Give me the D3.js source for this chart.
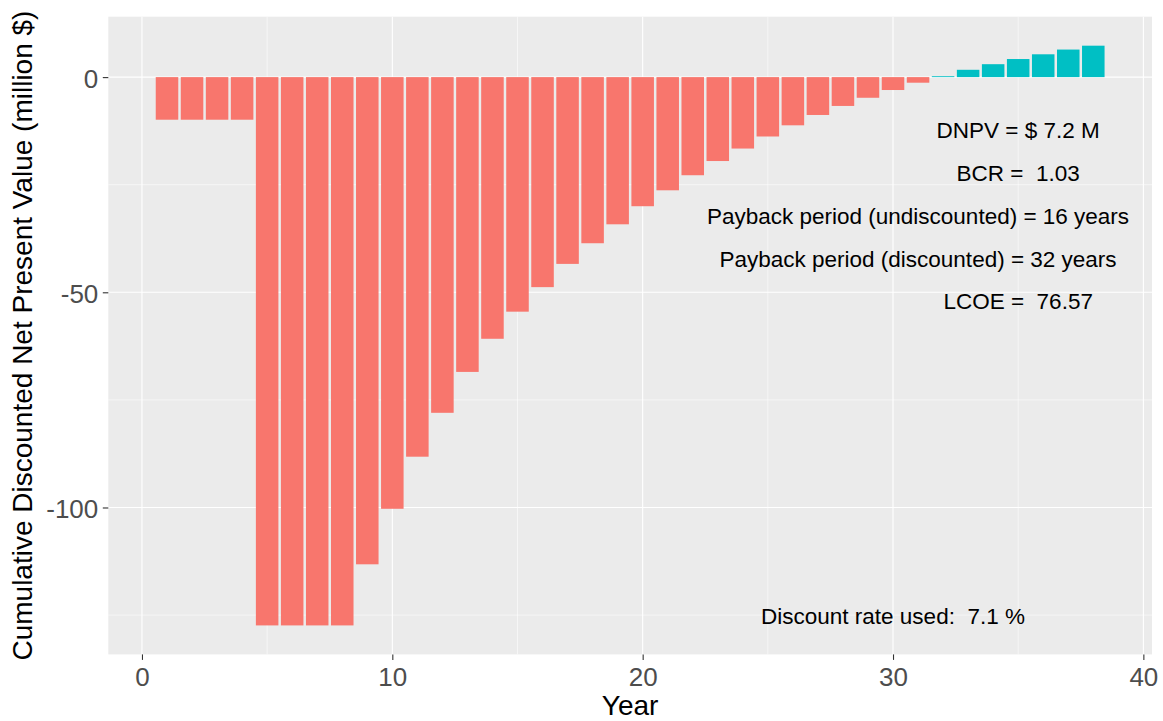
<!DOCTYPE html>
<html>
<head>
<meta charset="utf-8">
<script src="https://cdn.jsdelivr.net/npm/d3@7"></script>
<style>
  html, body { margin: 0; padding: 0; background: #ffffff; }
  svg { display: block; }
  text { font-family: "Liberation Sans", Arial, sans-serif; white-space: pre; }
</style>
</head>
<body>
<svg id="chart" width="1163" height="721"></svg>
<script>
// ---- Data ----
const years = [1,2,3,4,5,6,7,8,9,10,11,12,13,14,15,16,17,18,19,20,21,22,23,24,25,26,27,28,29,30,31,32,33,34,35,36,37,38];
const cumDNPV = [-9.9,-9.9,-9.9,-9.9,-127.4,-127.4,-127.4,-127.4,-113.2,-100.3,-88.2,-78.0,-68.5,-60.8,-54.5,-48.8,-43.4,-38.6,-34.2,-30.0,-26.3,-22.8,-19.5,-16.6,-13.8,-11.2,-8.8,-6.7,-4.8,-3.0,-1.3,0.2,1.7,3.0,4.2,5.3,6.4,7.3];
const xTicks = [0, 10, 20, 30, 40];
const yTicks = [-100, -50, 0];
const xMinor = [5, 15, 25, 35];
const yMinor = [-125, -75, -25];
const annoText = ["DNPV = $ 7.2 M", "BCR =  1.03", "Payback period (undiscounted) = 16 years", "Payback period (discounted) = 32 years", "LCOE =  76.57", "Discount rate used:  7.1 %"];
const annoX = [35, 35, 31, 31, 35, 30];
const annoY = [-12.3, -22.3, -32.3, -42.2, -52.1, -125.3];
const xTitle = "Year";
const yTitle = "Cumulative Discounted Net Present Value (million $)";

const data = years.map((y, i) => ({ year: y, value: cumDNPV[i] }));

// ---- Layout ----
const panel = { left: 108.3, right: 1152, top: 16.7, bottom: 654.4 };
const svg = d3.select("#chart");

// ggplot-like expansion (5%)
const xMinD = d3.min(years) - 0.45, xMaxD = d3.max(years) + 0.45;
const xPad = (xMaxD - xMinD) * 0.05;
const yMinD = Math.min(0, d3.min(cumDNPV)), yMaxD = Math.max(0, d3.max(cumDNPV));
const yPad = (yMaxD - yMinD) * 0.05;

const x = d3.scaleLinear().domain([xMinD - xPad, xMaxD + xPad]).range([panel.left, panel.right]);
const y = d3.scaleLinear().domain([yMinD - yPad, yMaxD + yPad]).range([panel.bottom, panel.top]);

// panel background
svg.append("rect")
  .attr("x", panel.left).attr("y", panel.top)
  .attr("width", panel.right - panel.left).attr("height", panel.bottom - panel.top)
  .attr("fill", "#EBEBEB");

const grid = svg.append("g");
// minor grid
grid.selectAll(".xminor").data(xMinor).enter().append("line")
  .attr("x1", d => x(d)).attr("x2", d => x(d))
  .attr("y1", panel.top).attr("y2", panel.bottom)
  .attr("stroke", "#ffffff").attr("stroke-width", 0.55);
grid.selectAll(".yminor").data(yMinor).enter().append("line")
  .attr("y1", d => y(d)).attr("y2", d => y(d))
  .attr("x1", panel.left).attr("x2", panel.right)
  .attr("stroke", "#ffffff").attr("stroke-width", 0.55);
// major grid
grid.selectAll(".xmajor").data(xTicks).enter().append("line")
  .attr("x1", d => x(d)).attr("x2", d => x(d))
  .attr("y1", panel.top).attr("y2", panel.bottom)
  .attr("stroke", "#ffffff").attr("stroke-width", 1.1);
grid.selectAll(".ymajor").data(yTicks).enter().append("line")
  .attr("y1", d => y(d)).attr("y2", d => y(d))
  .attr("x1", panel.left).attr("x2", panel.right)
  .attr("stroke", "#ffffff").attr("stroke-width", 1.1);

// bars
const bw = 0.9;
svg.append("g").selectAll("rect").data(data).enter().append("rect")
  .attr("x", d => x(d.year - bw / 2))
  .attr("width", d => x(d.year + bw / 2) - x(d.year - bw / 2))
  .attr("y", d => y(Math.max(0, d.value)))
  .attr("height", d => Math.abs(y(d.value) - y(0)))
  .attr("fill", d => d.value >= 0 ? "#00BFC4" : "#F8766D");

// annotations
const annoSize = 22.5;
svg.append("g").selectAll("text").data(annoText).enter().append("text")
  .attr("x", (d, i) => x(annoX[i]))
  .attr("y", (d, i) => y(annoY[i]) + annoSize * 0.358)
  .attr("text-anchor", "middle")
  .attr("font-size", annoSize)
  .attr("fill", "#000000")
  .attr("xml:space", "preserve")
  .text(d => d);

// axes
const tickSize = 26;
const fmt = d => String(d);
const xAxis = d3.axisBottom(x).tickValues(xTicks).tickSize(5.5).tickPadding(7).tickFormat(fmt);
const gx = svg.append("g").attr("transform", `translate(0,${panel.bottom})`).call(xAxis);
gx.select(".domain").remove();
gx.selectAll(".tick line").attr("stroke", "#333333").attr("stroke-width", 1.1);
gx.selectAll(".tick text").attr("font-size", tickSize).attr("fill", "#4D4D4D")
  .attr("font-family", "Liberation Sans, Arial, sans-serif")
  .attr("dy", null).attr("y", 31.3);

const yAxis = d3.axisLeft(y).tickValues(yTicks).tickSize(5.5).tickPadding(5).tickFormat(fmt);
const gy = svg.append("g").attr("transform", `translate(${panel.left},0)`).call(yAxis);
gy.select(".domain").remove();
gy.selectAll(".tick line").attr("stroke", "#333333").attr("stroke-width", 1.1);
gy.selectAll(".tick text").attr("font-size", tickSize).attr("fill", "#4D4D4D")
  .attr("font-family", "Liberation Sans, Arial, sans-serif")
  .attr("dy", null).attr("y", tickSize * 0.358 + 1).attr("x", -10);

// axis titles
svg.append("text")
  .attr("x", (panel.left + panel.right) / 2)
  .attr("y", 714.5)
  .attr("text-anchor", "middle")
  .attr("font-size", 28)
  .attr("fill", "#000000")
  .text(xTitle);

svg.append("text")
  .attr("transform", `translate(32.3,${(panel.top + panel.bottom) / 2}) rotate(-90)`)
  .attr("text-anchor", "middle")
  .attr("font-size", 28)
  .attr("fill", "#000000")
  .text(yTitle);
</script>
</body>
</html>
